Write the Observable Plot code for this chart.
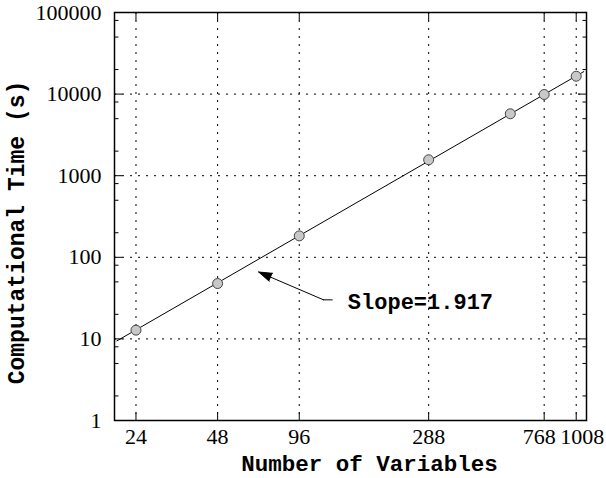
<!DOCTYPE html>
<html>
<head>
<meta charset="utf-8">
<script src="https://cdn.jsdelivr.net/npm/d3@7"></script>
<script src="https://cdn.jsdelivr.net/npm/@observablehq/plot@0.6"></script>
<style>
  html, body { margin: 0; padding: 0; background: #fff; }
  #chart svg { display: block; }
</style>
</head>
<body>
<div id="chart"></div>
<script>
// Measured run times against problem size (log-log)
const nVars   = [24, 48, 96, 288, 576, 768, 1008];
const seconds = [12.8, 47.7, 183, 1566, 5740, 9890, 16560];

// Axis ticks
const xTickValues = [24, 48, 96, 288, 768, 1008];
const yTickValues = [1, 10, 100, 1000, 10000, 100000];
const yMinorMantissas = [2, 5, 8];

// Fitted power law and its annotation
const slope = 1.917;
const fitSpan = [20.4, 1075];
const arrowTail = [127, 118];
const arrowTailY = 30.1;
const arrowTip = [68, 66];
const labelAt = [145, 28.5];

const xDomain = [20, 1100];
const yDomain = [1, 100000];

const points = nVars.map((n, i) => ({n, t: seconds[i]}));

// Power-law line with the stated slope, through the centroid of the log data
const meanLogX = d3.mean(nVars, Math.log10);
const meanLogY = d3.mean(seconds, Math.log10);
const fitLine = fitSpan.map(n => ({n, t: Math.pow(10, meanLogY + slope * (Math.log10(n) - meanLogX))}));

const yMinor = [];
for (let e = 0; e < 5; e++) for (const m of yMinorMantissas) yMinor.push(m * Math.pow(10, e));

// Small tick-mark symbols drawn inward from the frame
const tick = (dx, dy) => ({draw(ctx) { ctx.moveTo(0, 0); ctx.lineTo(dx, dy); }});

const mono = "'Liberation Mono', 'DejaVu Sans Mono', monospace";
const serif = "'Liberation Serif', 'DejaVu Serif', serif";

const chart = Plot.plot({
  width: 606,
  height: 478,
  marginLeft: 114,
  marginRight: 20,
  marginTop: 12,
  marginBottom: 58,
  x: {type: "log", domain: xDomain, axis: null},
  y: {type: "log", domain: yDomain, axis: null},
  style: {background: "#fff", color: "#000", fontFamily: serif},
  marks: [
    // dotted grid
    Plot.gridX(xTickValues, {stroke: "#000", strokeOpacity: 1, strokeWidth: 1, strokeDasharray: "2,6"}),
    Plot.gridY(yTickValues.slice(1, -1), {stroke: "#000", strokeOpacity: 1, strokeWidth: 1, strokeDasharray: "2,6"}),

    // tick marks on all four sides
    Plot.dot(yTickValues, {x: () => xDomain[0], y: d => d, symbol: tick(8, 0), fill: "none", stroke: "#000", strokeWidth: 1}),
    Plot.dot(yTickValues, {x: () => xDomain[1], y: d => d, symbol: tick(-8, 0), fill: "none", stroke: "#000", strokeWidth: 1}),
    Plot.dot(yMinor, {x: () => xDomain[0], y: d => d, symbol: tick(4, 0), fill: "none", stroke: "#000", strokeWidth: 1}),
    Plot.dot(yMinor, {x: () => xDomain[1], y: d => d, symbol: tick(-4, 0), fill: "none", stroke: "#000", strokeWidth: 1}),
    Plot.dot(xTickValues, {x: d => d, y: () => yDomain[0], symbol: tick(0, -8), fill: "none", stroke: "#000", strokeWidth: 1}),
    Plot.dot(xTickValues, {x: d => d, y: () => yDomain[1], symbol: tick(0, 8), fill: "none", stroke: "#000", strokeWidth: 1}),

    Plot.frame({stroke: "#000", strokeWidth: 1.5}),

    // tick labels
    Plot.text(yTickValues, {y: d => d, frameAnchor: "left", textAnchor: "end", lineAnchor: "middle", dx: -13, text: d => String(d), fontFamily: serif, fontSize: 22, fill: "#000"}),
    Plot.text(xTickValues.slice(0, 4), {x: d => d, frameAnchor: "bottom", textAnchor: "middle", lineAnchor: "top", dy: 8, text: d => String(d), fontFamily: serif, fontSize: 22, fill: "#000"}),
    Plot.text(xTickValues.slice(4, 5), {x: d => d, frameAnchor: "bottom", textAnchor: "middle", lineAnchor: "top", dy: 8, dx: -5, text: d => String(d), fontFamily: serif, fontSize: 22, fill: "#000"}),
    Plot.text(xTickValues.slice(5), {x: d => d, frameAnchor: "bottom", textAnchor: "middle", lineAnchor: "top", dy: 8, dx: 6, text: d => String(d), fontFamily: serif, fontSize: 22, fill: "#000"}),

    // axis titles
    Plot.text(["Number of Variables"], {frameAnchor: "bottom", textAnchor: "middle", lineAnchor: "middle", dx: 19, dy: 43, text: d => d, fontFamily: mono, fontWeight: "bold", fontSize: 22.5, fill: "#000"}),
    Plot.text(["Computational Time (s)"], {frameAnchor: "left", textAnchor: "middle", lineAnchor: "middle", dx: -98, dy: 16, rotate: -90, text: d => d, fontFamily: mono, fontWeight: "bold", fontSize: 23, fill: "#000"}),

    // fitted line and measurements
    Plot.line(fitLine, {x: "n", y: "t", stroke: "#000", strokeWidth: 1}),
    Plot.dot(points, {x: "n", y: "t", r: 5, fill: "#c8c8c8", stroke: "#444", strokeWidth: 1}),

    // slope annotation
    Plot.line([{n: arrowTail[0], t: arrowTailY}, {n: arrowTail[1], t: arrowTailY}], {x: "n", y: "t", stroke: "#000", strokeWidth: 1}),
    Plot.arrow([{x1: arrowTail[1], y1: arrowTailY, x2: arrowTip[0], y2: arrowTip[1]}], {x1: "x1", y1: "y1", x2: "x2", y2: "y2", stroke: "#000", fill: "#000", strokeWidth: 1, headLength: 21, headAngle: 36}),
    Plot.text([`Slope=${slope}`], {x: () => labelAt[0], y: () => labelAt[1], text: d => d, textAnchor: "start", lineAnchor: "middle", fontFamily: mono, fontWeight: "bold", fontSize: 22, fill: "#000"})
  ]
});

document.getElementById("chart").appendChild(chart);
</script>
</body>
</html>
